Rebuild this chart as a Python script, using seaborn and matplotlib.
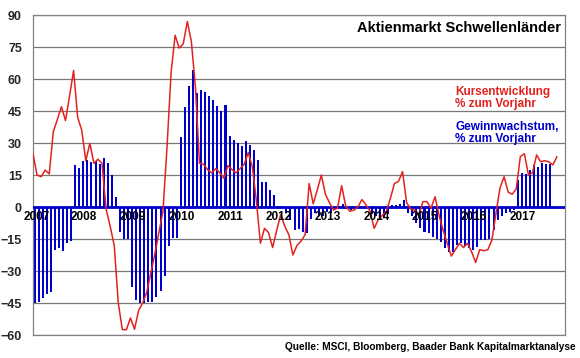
import numpy as np
import pandas as pd
import matplotlib
matplotlib.use('Agg')
import matplotlib.pyplot as plt
import seaborn as sns

# Jahreslabels (Januar jedes Jahres)
jahre = [str(j) for j in range(2007, 2018)]

# Kursentwicklung, % zum Vorjahr (monatlich ab Jan 2007)
kurs = [25, 15, 14.2, 17.3, 15.5, 35.3, 41, 47, 40.5, 52,
        64, 42, 36, 21.7, 29.8, 20.5, 22.4, 20.5, -1, -9,
        -18, -45, -57.5, -57.5, -52, -57.3, -48.5, -45, -40, -31,
        -22, -12, -2, 28, 63, 80.5, 74.5, 76.5, 87, 77.5,
        56, 20.5, 20, 17.5, 16, 18, 16, 13.5, 19.4, 17.5,
        16, 18, 20, 25.5, 19, 3, -17, -10, -12, -19,
        -11, -3.5, -9, -13, -22.5, -18, -16, -13, 11, 1.5,
        8, 15, 6, 2, -1.4, -0.5, 10, 0.5, -2, -1.5,
        0, 3.5, 1, -2, -10, -6, -4, -2, 4, 11,
        12, 16.6, 2, -1, -1.5, -4, 2.5, 2.5, -0.6, 4.8,
        -4, -11, -17, -23, -20, -17, -19, -17, -21, -26,
        -20, -20.5, -20, -15.5, -3, 9, 14.2, 7, 6, 8.5,
        23.6, 25, 15, 16, 24.4, 21.2, 21.7, 21.2, 19.7, 23.6]

# Gewinnwachstum, % zum Vorjahr (monatlich ab Jan 2007)
gewinn = [-45, -44.5, -42.5, -41, -40, -20, -19.4, -20.5, -16.7, -15.8,
          19.7, 18.3, 21.5, 22, 21.2, 21.5, 20.3, 22.8, 20.8, 14.8,
          4.8, -11.5, -15.2, -15.2, -37.3, -43.6, -45.2, -45, -44.4, -44.4,
          -42, -39.3, -32.3, -18.5, -14.6, -14.4, 32.7, 47, 56.7, 64,
          53.3, 55, 54, 52, 50, 47.3, 45, 47.8, 33.2, 31.3,
          29.9, 28.5, 30.8, 29.2, 26.5, 22.2, 11.5, 11.5, 8.2, 5.8,
          0.4, 0.4, -3, -6.1, -10.8, -10.5, -11.6, -12, -5.5, -3,
          -4, -4, -2.5, -2.7, -1, 0.5, 1.2, -1, -1.5, -1,
          -0.5, 0.5, -1, -3.4, -4.2, -5.8, -5, -3.5, 0.8, 1,
          1.5, 3.2, -3, -4, -7.6, -9.8, -11.6, -12.3, -14, -15,
          -16.3, -19, -21, -21, -18, -17, -18.5, -19.4, -20, -18.8,
          -15.5, -15.5, -15, -10.8, -6.1, -4, -3, -2.2, -1.5, 12.7,
          15.8, 15.6, 17.3, 19.7, 18.6, 20.5, 20.2, 20.2]

rot = '#E3221F'
blau = '#0000CC'

sns.set_theme(style='white')
plt.rcParams['font.family'] = ['Liberation Sans', 'DejaVu Sans']

df_kurs = pd.DataFrame({'monat': np.arange(len(kurs)), 'wert': kurs})
df_gewinn = pd.DataFrame({'monat': np.arange(len(gewinn)) + 0.4, 'wert': gewinn})

fig, ax = plt.subplots(figsize=(5.8, 3.58), dpi=100)
fig.subplots_adjust(left=33/580, right=565/580, top=1-15/358, bottom=1-335/358)

sns.barplot(data=df_gewinn, x='monat', y='wert', native_scale=True, width=0.5,
            color=blau, saturation=1, linewidth=0, ax=ax, zorder=2)
sns.lineplot(data=df_kurs, x='monat', y='wert', color=rot, lw=1.1, ax=ax, zorder=4)
ax.axhline(0, color=blau, lw=2, zorder=3)

ax.set_xlim(0, 131)
ax.set_ylim(-60, 90)
ax.set_yticks(range(-60, 91, 15))
ax.set_xticks([])
ax.set_xlabel('')
ax.set_ylabel('')
ax.yaxis.grid(True, color='#787878', lw=0.9)
ax.set_axisbelow(True)
for s in ax.spines.values():
    s.set_color('#808080')
    s.set_linewidth(0.9)
ax.tick_params(axis='y', length=0, pad=8, labelsize=9)
for t in ax.get_yticklabels():
    t.set_fontweight('bold')

# Jahreslabels an der Nulllinie
for k, jahr in enumerate(jahre):
    xpos = 12 * k + (1.0 if k == 0 else 0.6)
    ax.text(xpos, -4.7, jahr, ha='center', va='center',
            fontsize=8.5, fontweight='bold', color='black', zorder=5)

fig.text(561/580, 1-28/358, 'Aktienmarkt Schwellenländer', ha='right', va='center',
         fontsize=10.5, fontweight='bold', color='black')
fig.text(455/580, 1-92/358, 'Kursentwicklung', ha='left', va='center',
         fontsize=8.5, fontweight='bold', color=rot)
fig.text(455/580, 1-104/358, '% zum Vorjahr', ha='left', va='center',
         fontsize=8.5, fontweight='bold', color=rot)
fig.text(455/580, 1-127/358, 'Gewinnwachstum,', ha='left', va='center',
         fontsize=8.5, fontweight='bold', color=blau)
fig.text(455/580, 1-139/358, '% zum Vorjahr', ha='left', va='center',
         fontsize=8.5, fontweight='bold', color=blau)
fig.text(576/580, 1-347/358, 'Quelle: MSCI, Bloomberg, Baader Bank Kapitalmarktanalyse',
         ha='right', va='center', fontsize=7.3, fontweight='bold', color='black')

fig.savefig('out.png', dpi=100)
